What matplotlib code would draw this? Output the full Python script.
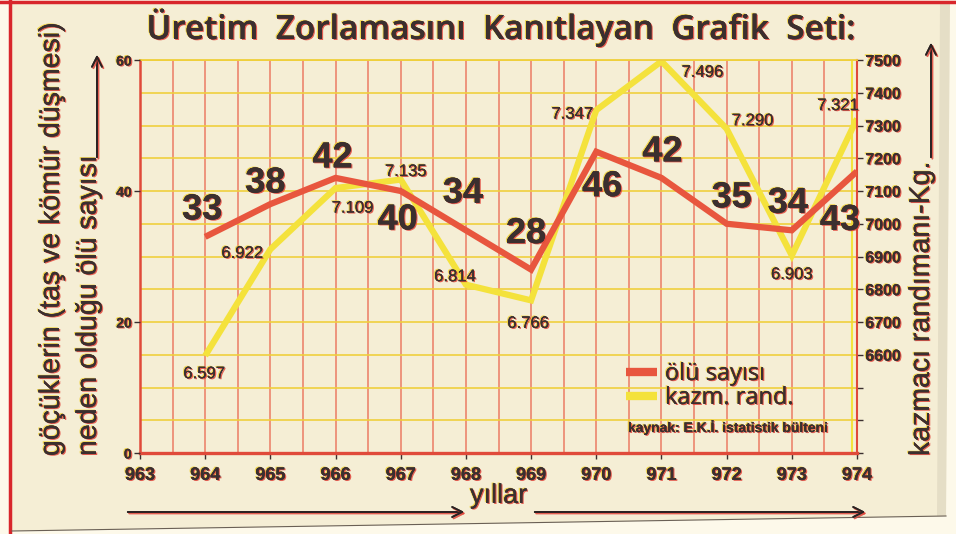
import numpy as np
import matplotlib.pyplot as plt
import matplotlib.patheffects as pe
from matplotlib.patches import Polygon
from matplotlib.lines import Line2D

# data
years = [964, 965, 966, 967, 968, 969, 970, 971, 972, 973, 974]
olu_sayisi = [33, 38, 42, 40, 34, 28, 46, 42, 35, 34, 43]
kazma_randiman = [6597, 6922, 7109, 7135, 6814, 6766, 7347, 7496, 7290, 6903, 7321]

year_ticks = [963, 964, 965, 966, 967, 968, 969, 970, 971, 972, 973, 974]
year_labels = ['963', '964', '965', '966', '967', '968', '969', '970', '971', '972', '973', '974']
left_ticks = [0, 20, 40, 60]
right_ticks = [6300, 6400, 6500, 6600, 6700, 6800, 6900, 7000, 7100, 7200, 7300, 7400, 7500]
right_labels = ['', '', '', '6600', '6700', '6800', '6900', '7000', '7100', '7200', '7300', '7400', '7500']

# label offsets in pixels (x, y up)
red_off = [(-3, 27), (-5, 21), (-3, 20), (-3, -29), (-3, 37), (-5, 36),
           (6, -35), (1, 26), (5, 26), (-4, 27), (-17, -49)]
yel_off = [(-1, -18), (-28, -4), (17, -20), (5, 8), (-11, 8), (-3, -23),
           (-24, -4), (41, -11), (26, 8), (0, -19), (-19, 13)]

INK = '#3b2f2f'
RED = '#e8563e'
YEL = '#f4e23c'
NARROW = ['Liberation Sans', 'DejaVu Sans']
ROUND = ['Open Sans', 'DejaVu Sans']

shadow = [pe.withSimplePatchShadow(offset=(-0.9, 0.6), shadow_rgbFace='#f0d23a', alpha=0.85),
          pe.withSimplePatchShadow(offset=(0.9, -0.7), shadow_rgbFace='#e0443a', alpha=0.85),
          pe.Normal()]

W, H = 956, 534
fig = plt.figure(figsize=(W / 100, H / 100), dpi=100)
fig.patch.set_facecolor('#fdf9ea')

def px(x, y):
    return (x / W, 1 - y / H)

# paper background
fig.patches.append(Polygon([px(12, 3), px(950, 3), px(946, 516), px(12, 531)], closed=True,
                           transform=fig.transFigure, facecolor='#f5eed5',
                           edgecolor='none', zorder=-10))
fig.patches.append(Polygon([px(940, 3), px(950, 3), px(946, 516), px(937, 516)], closed=True,
                           transform=fig.transFigure, facecolor='#cfc6b0', alpha=0.4,
                           edgecolor='none', zorder=-9))
fig.add_artist(Line2D([px(10, 0)[0]] * 2, [0, 1], color='#d8262b', lw=2.5))
fig.add_artist(Line2D([0, 1], [px(0, 1.5)[1]] * 2, color='#d8262b', lw=2.5))
fig.add_artist(Line2D([px(12, 0)[0], px(946, 0)[0]], [px(0, 531)[1], px(0, 516)[1]],
                      color='#6a6055', lw=0.8))

# ax holds the yield (right scale), ax2 the death count (left scale) so red sits on top
ax = fig.add_axes([140 / W, 81 / H, 717 / W, 393 / H])
ax.set_facecolor('none')
ax2 = ax.twinx()
ax.yaxis.tick_right()
ax2.yaxis.tick_left()

ax.set_xlim(963, 974)
ax.set_ylim(6300, 7500)
ax2.set_ylim(0, 60)

ax.set_xticks(year_ticks)
ax.set_xticklabels(year_labels)
ax.set_xticks(np.arange(963.5, 974, 1), minor=True)
ax.set_yticks(right_ticks)
ax.set_yticklabels(right_labels)
ax2.set_yticks(left_ticks)
ax2.set_yticklabels([str(t) for t in left_ticks])

ax.grid(True, axis='x', which='both', color=RED, lw=1.1, alpha=0.75)
ax.grid(True, axis='y', which='major', color='#efcf3a', lw=1.3, alpha=0.9)
ax.set_axisbelow(True)

for a in (ax, ax2):
    for s in a.spines.values():
        s.set_visible(False)
for side, col, lw in [('bottom', '#e04a3a', 2.4), ('left', '#e04a3a', 1.8),
                      ('right', '#e04a3a', 1.5), ('top', '#efcf3a', 1.3)]:
    ax.spines[side].set_visible(True)
    ax.spines[side].set_color(col)
    ax.spines[side].set_linewidth(lw)
ax.axvline(973.93, color=YEL, lw=1.5, zorder=0)

ax.tick_params(axis='x', which='major', length=4, width=1, color=INK, pad=6)
ax.tick_params(axis='x', which='minor', length=0)
ax.tick_params(axis='y', length=4, width=1, color=INK, pad=2)
ax2.tick_params(axis='y', length=4, width=1, color=INK, pad=2)
for labs, size in [(ax.get_xticklabels(), 13), (ax.get_yticklabels(), 11.5),
                   (ax2.get_yticklabels(), 10)]:
    for lab in labs:
        lab.set_fontfamily(NARROW); lab.set_fontweight('bold'); lab.set_fontsize(size)
        lab.set_color(INK); lab.set_path_effects(shadow)

# the two series
l_yel, = ax.plot(years, kazma_randiman, color=YEL, lw=4.5, solid_joinstyle='miter',
                 solid_capstyle='butt', label='kazm. rand.')
l_red, = ax2.plot(years, olu_sayisi, color=RED, lw=4.5, solid_joinstyle='miter',
                  solid_capstyle='butt', label='ölü sayısı')

for x, v, (dx, dy) in zip(years, kazma_randiman, yel_off):
    ax.annotate(f'{v / 1000:.3f}', (x, v), xytext=(dx, dy), textcoords='offset pixels',
                ha='center', va='center', fontsize=12, family=NARROW, color=INK,
                path_effects=shadow, annotation_clip=False)
for x, v, (dx, dy) in zip(years, olu_sayisi, red_off):
    ax2.annotate(str(v), (x, v), xytext=(dx, dy), textcoords='offset pixels',
                 ha='center', va='center', fontsize=26, fontweight='bold', family=NARROW,
                 color=INK, path_effects=shadow, annotation_clip=False)

# legend and source
leg = ax.legend(handles=[l_red, l_yel], loc='upper left', bbox_to_anchor=px(626, 362),
                bbox_transform=fig.transFigure, frameon=False, handlelength=1.3,
                handletextpad=0.35, labelspacing=0.0, borderpad=0, borderaxespad=0,
                prop={'family': ROUND, 'size': 17})
for t in leg.get_texts():
    t.set_color(INK); t.set_path_effects(shadow)
for h in leg.legend_handles:
    h.set_linewidth(6)
fig.text(*px(628, 427), 'kaynak: E.K.İ. istatistik bülteni', ha='left', va='center',
         fontsize=10, fontweight='bold', family=NARROW, color=INK, path_effects=shadow)

# title
fig.text(*px(502, 28), 'Üretim  Zorlamasını  Kanıtlayan  Grafik  Seti:', ha='center', va='center',
         fontsize=24, fontweight='semibold', family=ROUND, color=INK, path_effects=shadow)

# axis titles with arrows
for x, y, s in [(52, 456, 'göçüklerin (taş ve kömür düşmesi)'),
                (89, 456, 'neden olduğu ölü sayısı'),
                (922, 456, 'kazmacı randımanı-Kg.')]:
    fig.text(*px(x, y), s, rotation=90, rotation_mode='anchor', ha='left', va='center',
             fontsize=20.5, family=NARROW, color=INK, path_effects=shadow)
fig.text(*px(470, 503), 'yıllar', ha='left', va='baseline', fontsize=19.5, family=NARROW,
         color=INK, path_effects=shadow)

arrow_kw = dict(arrowstyle='->', color='#2a2222', lw=1.3, mutation_scale=18,
                path_effects=[pe.SimpleLineShadow(offset=(1, -1), shadow_color='#e0443a', alpha=0.6),
                              pe.Normal()])
for start, end in [((97, 160), (97, 52)), ((931, 160), (931, 40)),
                   ((125, 512), (467, 512)), ((532, 512), (868, 512))]:
    fig.add_artist(plt.annotate('', xy=px(*end), xytext=px(*start), xycoords='figure fraction',
                                textcoords='figure fraction', arrowprops=arrow_kw))

fig.savefig('out.png', dpi=100, facecolor=fig.get_facecolor())
